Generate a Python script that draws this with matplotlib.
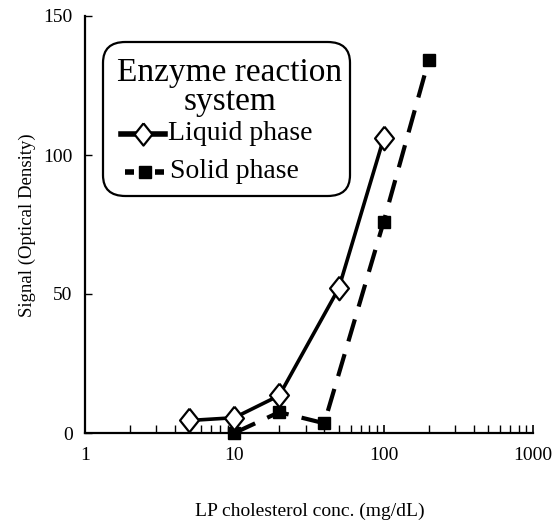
import matplotlib
matplotlib.use("Agg")
import matplotlib.pyplot as plt
from matplotlib.patches import FancyBboxPatch
from matplotlib.lines import Line2D

# ---- data ----
liquid_x = [5, 10, 20, 50, 100]
liquid_y = [4.5, 5.5, 13.5, 52, 106]
solid_x = [10, 20, 40, 100, 200]
solid_y = [0, 7.5, 3.5, 76, 134]
x_ticks = [1, 10, 100, 1000]
x_tick_labels = ["1", "10", "100", "1000"]
y_ticks = [0, 50, 100, 150]
y_tick_labels = ["0", "50", "100", "150"]
legend_title = "Enzyme reaction\nsystem"
series_names = ["Liquid phase", "Solid phase"]
x_label = "LP cholesterol conc. (mg/dL)"
y_label = "Signal (Optical Density)"

SERIF = ["Liberation Serif", "DejaVu Serif"]
DIAMOND = [(0, 1), (0.8, 0), (0, -1), (-0.8, 0), (0, 1)]

W, H = 554, 531
fig = plt.figure(figsize=(W / 100, H / 100), dpi=100)
AX_L, AX_R, AX_T, AX_B = 85, 533, 16, 433
ax = fig.add_axes([AX_L / W, 1 - AX_B / H, (AX_R - AX_L) / W, (AX_B - AX_T) / H])

ax.set_xscale("log")
ax.set_xlim(1, 1000)
ax.set_ylim(0, 150)

for s in ["top", "right"]:
    ax.spines[s].set_visible(False)
for s in ["left", "bottom"]:
    ax.spines[s].set_linewidth(1.6)

ax.set_xticks(x_ticks)
ax.set_xticklabels(x_tick_labels, fontfamily=SERIF, fontsize=14)
ax.set_yticks(y_ticks)
ax.set_yticklabels(y_tick_labels, fontfamily=SERIF, fontsize=14)
ax.tick_params(axis="x", which="major", direction="in", length=6, width=1.2, pad=10)
ax.tick_params(axis="x", which="minor", direction="in", length=6, width=1.0)
ax.tick_params(axis="y", which="major", direction="in", length=5, width=1.0, pad=9)

# series
ax.plot(liquid_x, liquid_y, color="black", lw=2.6, zorder=3,
        marker=DIAMOND, markersize=17, markerfacecolor="white",
        markeredgecolor="black", markeredgewidth=1.6, clip_on=False)
ax.plot(solid_x, solid_y, color="black", lw=3.0, zorder=2,
        linestyle=(0, (5.5, 3.2)), dash_capstyle="butt",
        marker="s", markersize=8, markerfacecolor="black",
        markeredgecolor="black", clip_on=False)

# labels
fig.text(27 / W, 1 - 225 / H, y_label, rotation=90, ha="center", va="center",
         fontfamily=SERIF, fontsize=13.5)
fig.text(310 / W, 1 - 511 / H, x_label, ha="center", va="center",
         fontfamily=SERIF, fontsize=14)

# legend (custom rounded box)
def fx(px):
    return (px - AX_L) / (AX_R - AX_L)

def fy(py):
    return (AX_B - py) / (AX_B - AX_T)

box = FancyBboxPatch((fx(103), fy(196)), fx(350) - fx(103), fy(42) - fy(196),
                     boxstyle="round,pad=0,rounding_size=0.05",
                     transform=ax.transAxes, facecolor="white",
                     edgecolor="black", linewidth=1.6, zorder=5)
ax.add_patch(box)
ax.text(fx(230), fy(87), legend_title, transform=ax.transAxes, ha="center",
        va="center", fontfamily=SERIF, fontsize=24, linespacing=0.92, zorder=6)
# liquid handle
ax.add_line(Line2D([fx(121), fx(165)], [fy(134), fy(134)], transform=ax.transAxes,
                   color="black", lw=4, zorder=6))
ax.add_line(Line2D([fx(143)], [fy(134)], transform=ax.transAxes, marker=DIAMOND,
                   markersize=16, markerfacecolor="white", markeredgecolor="black",
                   markeredgewidth=1.6, lw=0, zorder=7))
ax.text(fx(168), fy(134), series_names[0], transform=ax.transAxes, ha="left",
        va="center", fontfamily=SERIF, fontsize=20, zorder=6)
# solid handle
ax.add_line(Line2D([fx(125), fx(134)], [fy(172), fy(172)], transform=ax.transAxes,
                   color="black", lw=4, zorder=6, solid_capstyle="butt"))
ax.add_line(Line2D([fx(155), fx(164)], [fy(172), fy(172)], transform=ax.transAxes,
                   color="black", lw=4, zorder=6, solid_capstyle="butt"))
ax.add_line(Line2D([fx(144.5)], [fy(172)], transform=ax.transAxes, marker="s",
                   markersize=8, markerfacecolor="black", markeredgecolor="black",
                   lw=0, zorder=7))
ax.text(fx(170), fy(172), series_names[1], transform=ax.transAxes, ha="left",
        va="center", fontfamily=SERIF, fontsize=20, zorder=6)

fig.savefig("out.png", dpi=100, facecolor="white")
